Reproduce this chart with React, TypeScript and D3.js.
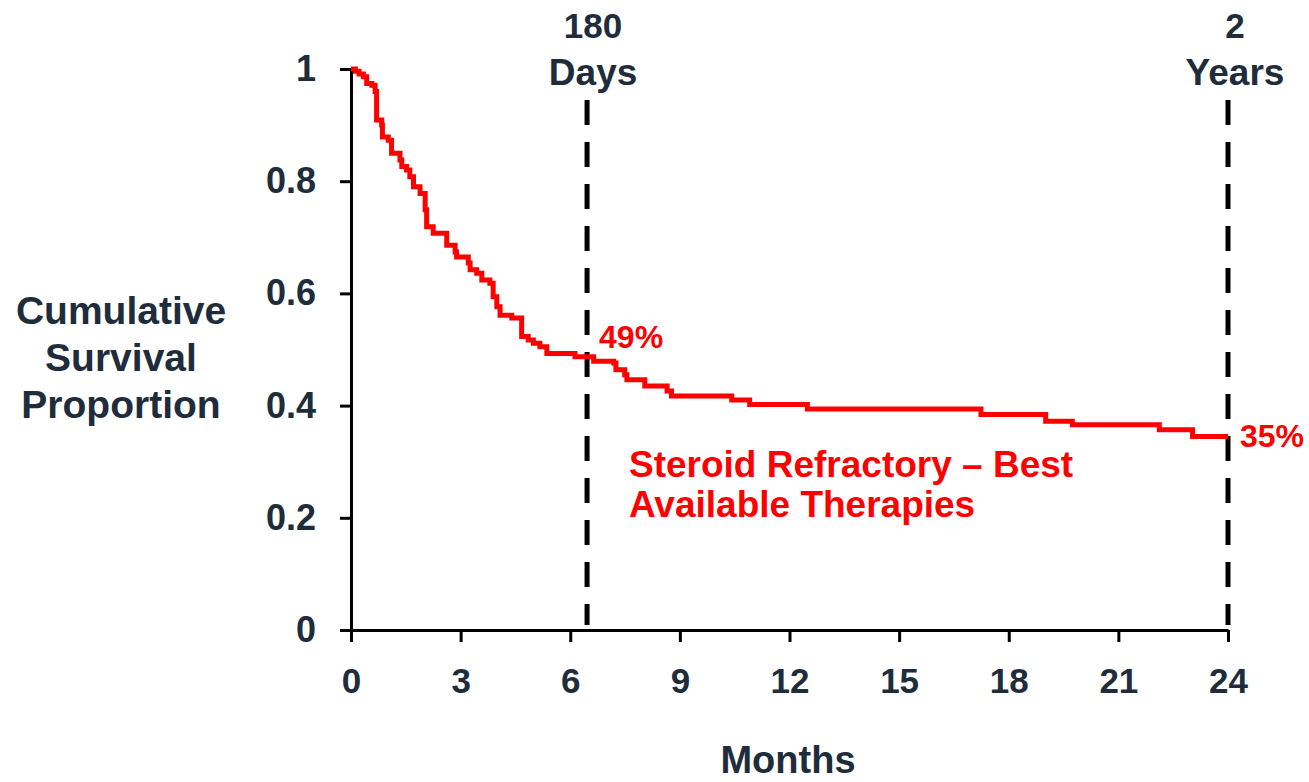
import React, { useEffect, useRef } from "react";
import * as d3 from "d3";

// Kaplan-Meier steps (months, survival after the drop)
const months = [
  0, 0.12, 0.22, 0.34, 0.43, 0.57, 0.66, 0.7, 0.84, 0.86, 1.02, 1.11, 1.34,
  1.39, 1.52, 1.61, 1.71, 1.89, 2.03, 2.07, 2.25, 2.62, 2.85, 2.89, 3.21, 3.26,
  3.44, 3.58, 3.8, 3.89, 3.99, 4.08, 4.4, 4.67, 4.85, 4.99, 5.17, 5.36, 6.13,
  6.64, 7.19, 7.25, 7.49, 7.55, 8.04, 8.65, 8.77, 10.42, 10.91, 12.49, 17.24,
  19.01, 19.74, 22.12, 23.03, 24,
];
const survival = [
  1.0, 0.996, 0.991, 0.986, 0.974, 0.971, 0.96, 0.909, 0.9, 0.879, 0.873, 0.85,
  0.838, 0.826, 0.82, 0.808, 0.79, 0.778, 0.749, 0.719, 0.707, 0.686, 0.674,
  0.665, 0.654, 0.642, 0.636, 0.624, 0.618, 0.594, 0.576, 0.561, 0.556, 0.523,
  0.517, 0.511, 0.505, 0.493, 0.487, 0.479, 0.476, 0.464, 0.455, 0.446, 0.435,
  0.426, 0.417, 0.41, 0.402, 0.394, 0.384, 0.372, 0.366, 0.357, 0.345, 0.345,
];

const xTicks = [0, 3, 6, 9, 12, 15, 18, 21, 24];
const yTicks = [0, 0.2, 0.4, 0.6, 0.8, 1];

// reference markers: 180 days and 2 years (in months)
const markers = [
  { month: 6.46, lines: ["180", "Days"] },
  { month: 24, lines: ["2", "Years"] },
];
const valueLabels = [
  { month: 6.46, value: 0.487, text: "49%" },
  { month: 24, value: 0.345, text: "35%" },
];
const seriesLabel = ["Steroid Refractory \u2013 Best", "Available Therapies"];
const yTitle = ["Cumulative", "Survival", "Proportion"];
const xTitle = "Months";

const W = 1309;
const H = 782;
const NAVY = "#1e2c3b";
const RED = "#ff0000";
const FONT = "'Liberation Sans', Arial, Helvetica, sans-serif";

const App = () => {
  const ref = useRef<SVGSVGElement>(null);

  useEffect(() => {
    const svg = d3.select(ref.current);
    svg.selectAll("*").remove();

    const x = d3.scaleLinear().domain([0, 24]).range([351, 1228]);
    const y = d3.scaleLinear().domain([0, 1]).range([630, 69]);

    // dashed reference lines
    svg
      .append("g")
      .selectAll("line")
      .data(markers)
      .enter()
      .append("line")
      .attr("x1", (d) => x(d.month))
      .attr("x2", (d) => x(d.month))
      .attr("y1", 100)
      .attr("y2", 625)
      .attr("stroke", "#000")
      .attr("stroke-width", 5)
      .attr("stroke-dasharray", "25 17");

    // axes
    const gx = svg
      .append("g")
      .attr("transform", "translate(0,630)")
      .call(
        d3
          .axisBottom(x)
          .tickValues(xTicks)
          .tickSize(12)
          .tickSizeOuter(0)
          .tickPadding(26)
          .tickFormat(d3.format("d"))
      );
    const gy = svg
      .append("g")
      .attr("transform", "translate(351,0)")
      .call(
        d3
          .axisLeft(y)
          .tickValues(yTicks)
          .tickSize(11)
          .tickSizeOuter(0)
          .tickPadding(24)
          .tickFormat((d) => String(d))
      );
    [gx, gy].forEach((g, i) => {
      g.select(".domain").attr("stroke", "#000").attr("stroke-width", 3);
      g.selectAll(".tick line").attr("stroke", "#000").attr("stroke-width", 3);
      g.selectAll(".tick text")
        .attr("fill", NAVY)
        .style("font-family", FONT)
        .style("font-weight", "bold")
        .style("font-size", i === 0 ? "35px" : "36px");
    });

    // survival curve
    const line = d3
      .line<number>()
      .x((d, i) => x(months[i]))
      .y((d) => y(d))
      .curve(d3.curveStepAfter);
    svg
      .append("path")
      .datum(survival)
      .attr("d", line)
      .attr("fill", "none")
      .attr("stroke", RED)
      .attr("stroke-width", 5)
      .attr("stroke-linejoin", "miter");

    const text = (g, tx, ty, s, color, size, anchor = "middle") =>
      g
        .append("text")
        .attr("x", tx)
        .attr("y", ty)
        .attr("text-anchor", anchor)
        .attr("fill", color)
        .style("font-family", FONT)
        .style("font-weight", "bold")
        .style("font-size", size + "px")
        .text(s);

    // marker titles
    markers.forEach((m) => {
      const cx = m.month === 24 ? x(m.month) + 7 : x(m.month) + 6;
      text(svg, cx, 38, m.lines[0], NAVY, 35);
      text(svg, cx, 85, m.lines[1], NAVY, 37);
    });

    // value labels
    valueLabels.forEach((v) => {
      text(svg, x(v.month) + 12, y(v.value) - 9 + (v.month === 24 ? 20 : 0), v.text, RED, 32, "start");
    });

    // series label
    seriesLabel.forEach((s, i) => text(svg, 629, 477 + i * 40, s, RED, 37, "start"));

    // axis titles
    yTitle.forEach((s, i) => text(svg, 121, 324 + i * 47, s, NAVY, 39));
    text(svg, 788, 773, xTitle, NAVY, 38);
  }, []);

  return (
    <svg
      ref={ref}
      width={W}
      height={H}
      style={{ position: "absolute", left: 0, top: 0, background: "#fff" }}
    />
  );
};

export default App;
